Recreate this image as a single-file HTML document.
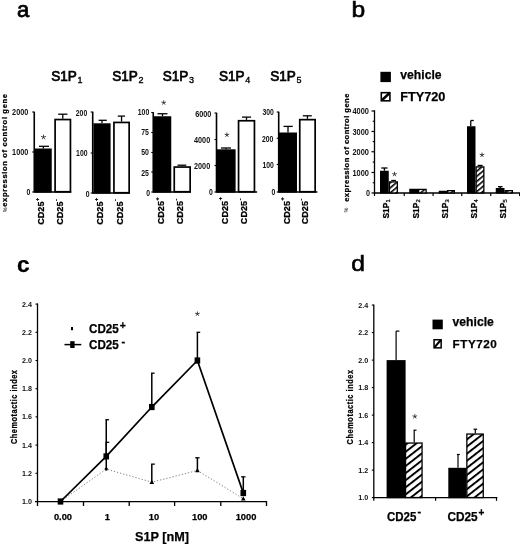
<!DOCTYPE html>
<html><head><meta charset="utf-8"><title>Figure</title>
<style>
html,body{margin:0;padding:0;background:#fff;}
body{width:520px;height:544px;overflow:hidden;font-family:"Liberation Sans",sans-serif;}
svg{display:block;will-change:transform;}
svg text{font-family:"Liberation Sans",sans-serif;fill:#000;}
svg text[font-weight="bold"]{stroke:#000;stroke-width:0.25px;}
</style></head><body>
<svg width="520" height="544" viewBox="0 0 520 544">
<rect width="520" height="544" fill="#fff"/>
<text x="17" y="16.8" font-size="22" font-weight="normal" text-anchor="start" stroke="#000" stroke-width="0.75">a</text>
<text x="351.6" y="16.6" font-size="22.5" font-weight="normal" text-anchor="start" textLength="13.7" lengthAdjust="spacingAndGlyphs" stroke="#000" stroke-width="0.6">b</text>
<text x="17.1" y="272" font-size="22" font-weight="bold" text-anchor="start" textLength="12.6" lengthAdjust="spacingAndGlyphs">c</text>
<text x="351.2" y="270.9" font-size="22.5" font-weight="normal" text-anchor="start" textLength="13.7" lengthAdjust="spacingAndGlyphs" stroke="#000" stroke-width="0.6">d</text>
<text x="51.2" y="81.2" font-size="13.8" font-weight="normal" stroke="#000" stroke-width="0.7" textLength="25.6" lengthAdjust="spacingAndGlyphs">S1P</text>
<text x="77.6" y="83.2" font-size="9" font-weight="normal" stroke="#000" stroke-width="0.35">1</text>
<line x1="34.25" y1="111.7" x2="34.25" y2="192.6" stroke="#000" stroke-width="1.6"/>
<line x1="32.25" y1="112" x2="34.25" y2="112" stroke="#000" stroke-width="1.1"/>
<text x="28.3" y="115.0" font-size="9" font-weight="bold" text-anchor="end" textLength="16.2" lengthAdjust="spacingAndGlyphs" style="stroke:none;fill:#111">2000</text>
<line x1="32.25" y1="152" x2="34.25" y2="152" stroke="#000" stroke-width="1.1"/>
<text x="28.3" y="154.89999999999998" font-size="9" font-weight="bold" text-anchor="end" textLength="16.2" lengthAdjust="spacingAndGlyphs" style="stroke:none;fill:#111">1000</text>
<line x1="32.25" y1="192" x2="34.25" y2="192" stroke="#000" stroke-width="1.1"/>
<text x="30.4" y="194.6" font-size="9" font-weight="bold" text-anchor="end" textLength="3.8" lengthAdjust="spacingAndGlyphs" style="stroke:none;fill:#111">0</text>
<line x1="43.375" y1="148.5" x2="43.375" y2="146.3" stroke="#000" stroke-width="1.3"/>
<line x1="39" y1="146.3" x2="49" y2="146.3" stroke="#000" stroke-width="1.3"/>
<rect x="35" y="148.5" width="16.75" height="44.099999999999994" fill="#000"/>
<line x1="62.775" y1="118.7" x2="62.775" y2="114.2" stroke="#000" stroke-width="1.3"/>
<line x1="58.2" y1="114.2" x2="67.4" y2="114.2" stroke="#000" stroke-width="1.3"/>
<rect x="55.1" y="119.55" width="15.349999999999998" height="72.19999999999999" fill="#fff" stroke="#000" stroke-width="1.7"/>
<line x1="34.25" y1="192" x2="71.3" y2="192" stroke="#000" stroke-width="1.5"/>
<path d="M43.5,137.2 L43.50,135.05 M43.5,137.2 L45.54,136.54 M43.5,137.2 L44.76,138.94 M43.5,137.2 L42.24,138.94 M43.5,137.2 L41.46,136.54 " stroke="#333" stroke-width="0.9" fill="none" stroke-linecap="round"/>
<text transform="translate(44.3,224.8) rotate(-90)" font-size="9.8" font-weight="bold" text-anchor="start" textLength="23.3" lengthAdjust="spacingAndGlyphs">CD25</text>
<text transform="translate(38.5,200.9) rotate(-90)" font-size="5.5" font-weight="bold" text-anchor="start">+</text>
<text transform="translate(63.4,224.8) rotate(-90)" font-size="9.8" font-weight="bold" text-anchor="start" textLength="23.3" lengthAdjust="spacingAndGlyphs">CD25</text>
<text transform="translate(57.6,200.9) rotate(-90)" font-size="5.5" font-weight="bold" text-anchor="start">-</text>
<text x="112.2" y="81.2" font-size="13.8" font-weight="normal" stroke="#000" stroke-width="0.7" textLength="25.6" lengthAdjust="spacingAndGlyphs">S1P</text>
<text x="138.6" y="83.2" font-size="9" font-weight="normal" stroke="#000" stroke-width="0.35">2</text>
<line x1="92.7" y1="111.7" x2="92.7" y2="193.6" stroke="#000" stroke-width="1.6"/>
<line x1="90.7" y1="112" x2="92.7" y2="112" stroke="#000" stroke-width="1.1"/>
<text x="87.2" y="116.3" font-size="9" font-weight="bold" text-anchor="end" textLength="11.4" lengthAdjust="spacingAndGlyphs" style="stroke:none;fill:#111">200</text>
<line x1="90.7" y1="153" x2="92.7" y2="153" stroke="#000" stroke-width="1.1"/>
<text x="87.5" y="155.89999999999998" font-size="9" font-weight="bold" text-anchor="end" textLength="11.4" lengthAdjust="spacingAndGlyphs" style="stroke:none;fill:#111">100</text>
<line x1="90.7" y1="193" x2="92.7" y2="193" stroke="#000" stroke-width="1.1"/>
<text x="89.6" y="196.5" font-size="9" font-weight="bold" text-anchor="end" textLength="3.8" lengthAdjust="spacingAndGlyphs" style="stroke:none;fill:#111">0</text>
<line x1="102.0" y1="123.3" x2="102.0" y2="120.3" stroke="#000" stroke-width="1.3"/>
<line x1="98.6" y1="120.3" x2="106.8" y2="120.3" stroke="#000" stroke-width="1.3"/>
<rect x="93.4" y="123.3" width="17.19999999999999" height="70.3" fill="#000"/>
<line x1="121.55" y1="121.6" x2="121.55" y2="116.1" stroke="#000" stroke-width="1.3"/>
<line x1="117.8" y1="116.1" x2="125" y2="116.1" stroke="#000" stroke-width="1.3"/>
<rect x="113.94999999999999" y="122.44999999999999" width="15.200000000000006" height="70.3" fill="#fff" stroke="#000" stroke-width="1.7"/>
<line x1="92.7" y1="193" x2="130" y2="193" stroke="#000" stroke-width="1.5"/>
<text transform="translate(103.4,224.8) rotate(-90)" font-size="9.8" font-weight="bold" text-anchor="start" textLength="23.3" lengthAdjust="spacingAndGlyphs">CD25</text>
<text transform="translate(97.60000000000001,200.9) rotate(-90)" font-size="5.5" font-weight="bold" text-anchor="start">+</text>
<text transform="translate(123.0,224.8) rotate(-90)" font-size="9.8" font-weight="bold" text-anchor="start" textLength="23.3" lengthAdjust="spacingAndGlyphs">CD25</text>
<text transform="translate(117.2,200.9) rotate(-90)" font-size="5.5" font-weight="bold" text-anchor="start">-</text>
<text x="162.7" y="81.2" font-size="13.8" font-weight="normal" stroke="#000" stroke-width="0.7" textLength="25.6" lengthAdjust="spacingAndGlyphs">S1P</text>
<text x="189.1" y="83.2" font-size="9" font-weight="normal" stroke="#000" stroke-width="0.35">3</text>
<line x1="153.25" y1="112.2" x2="153.25" y2="192.6" stroke="#000" stroke-width="1.6"/>
<line x1="151.25" y1="112.5" x2="153.25" y2="112.5" stroke="#000" stroke-width="1.1"/>
<text x="149.2" y="114.9" font-size="9" font-weight="bold" text-anchor="end" textLength="11.4" lengthAdjust="spacingAndGlyphs" style="stroke:none;fill:#111">100</text>
<line x1="151.25" y1="132.5" x2="153.25" y2="132.5" stroke="#000" stroke-width="1.1"/>
<text x="148.9" y="135.1" font-size="9" font-weight="bold" text-anchor="end" textLength="7.7" lengthAdjust="spacingAndGlyphs" style="stroke:none;fill:#111">75</text>
<line x1="151.25" y1="152.5" x2="153.25" y2="152.5" stroke="#000" stroke-width="1.1"/>
<text x="148.9" y="155.29999999999998" font-size="9" font-weight="bold" text-anchor="end" textLength="7.7" lengthAdjust="spacingAndGlyphs" style="stroke:none;fill:#111">50</text>
<line x1="151.25" y1="172" x2="153.25" y2="172" stroke="#000" stroke-width="1.1"/>
<text x="148.9" y="175.6" font-size="9" font-weight="bold" text-anchor="end" textLength="7.7" lengthAdjust="spacingAndGlyphs" style="stroke:none;fill:#111">25</text>
<line x1="151.25" y1="192" x2="153.25" y2="192" stroke="#000" stroke-width="1.1"/>
<text x="150" y="195.79999999999998" font-size="9" font-weight="bold" text-anchor="end" textLength="3.8" lengthAdjust="spacingAndGlyphs" style="stroke:none;fill:#111">0</text>
<line x1="162.5" y1="116.25" x2="162.5" y2="113.75" stroke="#000" stroke-width="1.3"/>
<line x1="157.5" y1="113.75" x2="167.5" y2="113.75" stroke="#000" stroke-width="1.3"/>
<rect x="153.75" y="116.25" width="17.5" height="76.35" fill="#000"/>
<line x1="182.2" y1="166.2" x2="182.2" y2="165.2" stroke="#000" stroke-width="1.3"/>
<line x1="177.5" y1="165.2" x2="186.3" y2="165.2" stroke="#000" stroke-width="1.3"/>
<rect x="174.25" y="167.04999999999998" width="15.899999999999995" height="24.700000000000006" fill="#fff" stroke="#000" stroke-width="1.7"/>
<line x1="153.25" y1="192" x2="191" y2="192" stroke="#000" stroke-width="1.5"/>
<path d="M163.7,102.7 L163.70,100.70 M163.7,102.7 L165.60,102.08 M163.7,102.7 L164.88,104.32 M163.7,102.7 L162.52,104.32 M163.7,102.7 L161.80,102.08 " stroke="#333" stroke-width="0.9" fill="none" stroke-linecap="round"/>
<text transform="translate(164.3,224.3) rotate(-90)" font-size="9.8" font-weight="bold" text-anchor="start" textLength="23.3" lengthAdjust="spacingAndGlyphs">CD25</text>
<text transform="translate(158.5,200.4) rotate(-90)" font-size="5.5" font-weight="bold" text-anchor="start">+</text>
<text transform="translate(183.4,224.3) rotate(-90)" font-size="9.8" font-weight="bold" text-anchor="start" textLength="23.3" lengthAdjust="spacingAndGlyphs">CD25</text>
<text transform="translate(177.6,200.4) rotate(-90)" font-size="5.5" font-weight="bold" text-anchor="start">-</text>
<text x="218.95" y="81.2" font-size="13.8" font-weight="normal" stroke="#000" stroke-width="0.7" textLength="25.6" lengthAdjust="spacingAndGlyphs">S1P</text>
<text x="245.35" y="83.2" font-size="9" font-weight="normal" stroke="#000" stroke-width="0.35">4</text>
<line x1="216.5" y1="112.7" x2="216.5" y2="192.6" stroke="#000" stroke-width="1.6"/>
<line x1="214.5" y1="113" x2="216.5" y2="113" stroke="#000" stroke-width="1.1"/>
<text x="211.4" y="117.0" font-size="9" font-weight="bold" text-anchor="end" textLength="16.2" lengthAdjust="spacingAndGlyphs" style="stroke:none;fill:#111">6000</text>
<line x1="214.5" y1="139.5" x2="216.5" y2="139.5" stroke="#000" stroke-width="1.1"/>
<text x="210.2" y="142.5" font-size="9" font-weight="bold" text-anchor="end" textLength="16.2" lengthAdjust="spacingAndGlyphs" style="stroke:none;fill:#111">4000</text>
<line x1="214.5" y1="165.5" x2="216.5" y2="165.5" stroke="#000" stroke-width="1.1"/>
<text x="210.2" y="168.5" font-size="9" font-weight="bold" text-anchor="end" textLength="16.2" lengthAdjust="spacingAndGlyphs" style="stroke:none;fill:#111">2000</text>
<line x1="214.5" y1="192" x2="216.5" y2="192" stroke="#000" stroke-width="1.1"/>
<text x="212.7" y="195.2" font-size="9" font-weight="bold" text-anchor="end" textLength="3.8" lengthAdjust="spacingAndGlyphs" style="stroke:none;fill:#111">0</text>
<line x1="226.05" y1="149.3" x2="226.05" y2="148" stroke="#000" stroke-width="1.3"/>
<line x1="221" y1="148" x2="231" y2="148" stroke="#000" stroke-width="1.3"/>
<rect x="216.5" y="149.3" width="19.099999999999994" height="43.29999999999998" fill="#000"/>
<line x1="246.5" y1="119.9" x2="246.5" y2="117.1" stroke="#000" stroke-width="1.3"/>
<line x1="242" y1="117.1" x2="251.1" y2="117.1" stroke="#000" stroke-width="1.3"/>
<rect x="238.54999999999998" y="120.75" width="15.900000000000023" height="70.99999999999999" fill="#fff" stroke="#000" stroke-width="1.7"/>
<line x1="216.5" y1="192" x2="257.1" y2="192" stroke="#000" stroke-width="1.5"/>
<path d="M226.9,134.9 L226.90,132.90 M226.9,134.9 L228.80,134.28 M226.9,134.9 L228.08,136.52 M226.9,134.9 L225.72,136.52 M226.9,134.9 L225.00,134.28 " stroke="#333" stroke-width="0.9" fill="none" stroke-linecap="round"/>
<text transform="translate(228.0,224.2) rotate(-90)" font-size="9.8" font-weight="bold" text-anchor="start" textLength="23.3" lengthAdjust="spacingAndGlyphs">CD25</text>
<text transform="translate(222.2,200.29999999999998) rotate(-90)" font-size="5.5" font-weight="bold" text-anchor="start">+</text>
<text transform="translate(247.4,224.2) rotate(-90)" font-size="9.8" font-weight="bold" text-anchor="start" textLength="23.3" lengthAdjust="spacingAndGlyphs">CD25</text>
<text transform="translate(241.6,200.29999999999998) rotate(-90)" font-size="5.5" font-weight="bold" text-anchor="start">-</text>
<text x="270.2" y="81.2" font-size="13.8" font-weight="normal" stroke="#000" stroke-width="0.7" textLength="25.6" lengthAdjust="spacingAndGlyphs">S1P</text>
<text x="296.6" y="83.2" font-size="9" font-weight="normal" stroke="#000" stroke-width="0.35">5</text>
<line x1="278.7" y1="111.7" x2="278.7" y2="192.6" stroke="#000" stroke-width="1.6"/>
<line x1="276.7" y1="112" x2="278.7" y2="112" stroke="#000" stroke-width="1.1"/>
<text x="273.8" y="115.10000000000001" font-size="9" font-weight="bold" text-anchor="end" textLength="11.4" lengthAdjust="spacingAndGlyphs" style="stroke:none;fill:#111">300</text>
<line x1="276.7" y1="138.25" x2="278.7" y2="138.25" stroke="#000" stroke-width="1.1"/>
<text x="273.4" y="141.7" font-size="9" font-weight="bold" text-anchor="end" textLength="11.4" lengthAdjust="spacingAndGlyphs" style="stroke:none;fill:#111">200</text>
<line x1="276.7" y1="164.5" x2="278.7" y2="164.5" stroke="#000" stroke-width="1.1"/>
<text x="273.8" y="167.7" font-size="9" font-weight="bold" text-anchor="end" textLength="11.4" lengthAdjust="spacingAndGlyphs" style="stroke:none;fill:#111">100</text>
<line x1="276.7" y1="192" x2="278.7" y2="192" stroke="#000" stroke-width="1.1"/>
<text x="275.4" y="194.89999999999998" font-size="9" font-weight="bold" text-anchor="end" textLength="3.8" lengthAdjust="spacingAndGlyphs" style="stroke:none;fill:#111">0</text>
<line x1="288.0" y1="132.5" x2="288.0" y2="126.4" stroke="#000" stroke-width="1.3"/>
<line x1="283.5" y1="126.4" x2="292.8" y2="126.4" stroke="#000" stroke-width="1.3"/>
<rect x="279" y="132.5" width="18" height="60.099999999999994" fill="#000"/>
<line x1="307.45" y1="118.8" x2="307.45" y2="115.8" stroke="#000" stroke-width="1.3"/>
<line x1="302.8" y1="115.8" x2="311.8" y2="115.8" stroke="#000" stroke-width="1.3"/>
<rect x="299.75" y="119.64999999999999" width="15.400000000000023" height="72.1" fill="#fff" stroke="#000" stroke-width="1.7"/>
<line x1="278.7" y1="192" x2="317.4" y2="192" stroke="#000" stroke-width="1.5"/>
<text transform="translate(290.0,224.3) rotate(-90)" font-size="9.8" font-weight="bold" text-anchor="start" textLength="23.3" lengthAdjust="spacingAndGlyphs">CD25</text>
<text transform="translate(284.2,200.4) rotate(-90)" font-size="5.5" font-weight="bold" text-anchor="start">+</text>
<text transform="translate(308.4,224.3) rotate(-90)" font-size="9.8" font-weight="bold" text-anchor="start" textLength="23.3" lengthAdjust="spacingAndGlyphs">CD25</text>
<text transform="translate(302.59999999999997,200.4) rotate(-90)" font-size="5.5" font-weight="bold" text-anchor="start">-</text>
<text transform="translate(7.4,206.8) rotate(-90)" font-size="7.6" font-weight="bold" text-anchor="start" textLength="112.8" lengthAdjust="spacing">expression of control gene</text>
<text transform="translate(6.8,212.3) rotate(-90)" font-size="5.5" font-weight="bold" text-anchor="start" style="stroke:none;fill:#444">%</text>
<defs><pattern id="h" width="5.6" height="5.6" patternUnits="userSpaceOnUse" patternTransform="rotate(-38)"><rect width="5.6" height="5.6" fill="#fff"/><rect y="0" width="5.6" height="1.95" fill="#000"/></pattern><pattern id="h2" width="3.9" height="3.9" patternUnits="userSpaceOnUse" patternTransform="rotate(-40)"><rect width="3.9" height="3.9" fill="#fff"/><rect y="0" width="3.9" height="1.6" fill="#000"/></pattern></defs>
<rect x="380.4" y="71.8" width="10.5" height="10.299999999999997" fill="#000"/>
<text x="400.3" y="78.75" font-size="13" font-weight="bold" text-anchor="start" textLength="41.3" lengthAdjust="spacingAndGlyphs">vehicle</text>
<rect x="381.3" y="92.7" width="8.599999999999989" height="8.099999999999989" fill="#fff" stroke="#000" stroke-width="1.6"/>
<path d="M381.3,98.89999999999999 L388.0,92.7 L389.9,92.7 L389.9,94.60000000000001 L383.2,100.8 L381.3,100.8 Z" fill="#000"/>
<text x="400.2" y="101.25" font-size="13" font-weight="bold" text-anchor="start" textLength="45.2" lengthAdjust="spacingAndGlyphs">FTY720</text>
<line x1="374.5" y1="110.2" x2="374.5" y2="193.6" stroke="#000" stroke-width="1.3"/>
<line x1="373.9" y1="193" x2="520" y2="193" stroke="#000" stroke-width="1.3"/>
<line x1="371.5" y1="111" x2="374.5" y2="111" stroke="#000" stroke-width="1.2"/>
<text x="369.0" y="114.1" font-size="9" font-weight="bold" text-anchor="end" textLength="16.5" lengthAdjust="spacingAndGlyphs" style="stroke:none;fill:#111">4000</text>
<line x1="371.5" y1="131.5" x2="374.5" y2="131.5" stroke="#000" stroke-width="1.2"/>
<text x="369.0" y="134.6" font-size="9" font-weight="bold" text-anchor="end" textLength="16.5" lengthAdjust="spacingAndGlyphs" style="stroke:none;fill:#111">3000</text>
<line x1="371.5" y1="151.75" x2="374.5" y2="151.75" stroke="#000" stroke-width="1.2"/>
<text x="369.0" y="154.85" font-size="9" font-weight="bold" text-anchor="end" textLength="16.5" lengthAdjust="spacingAndGlyphs" style="stroke:none;fill:#111">2000</text>
<line x1="371.5" y1="172.5" x2="374.5" y2="172.5" stroke="#000" stroke-width="1.2"/>
<text x="369.0" y="175.6" font-size="9" font-weight="bold" text-anchor="end" textLength="16.5" lengthAdjust="spacingAndGlyphs" style="stroke:none;fill:#111">1000</text>
<line x1="371.5" y1="193" x2="374.5" y2="193" stroke="#000" stroke-width="1.2"/>
<text x="369.9" y="196.1" font-size="9" font-weight="bold" text-anchor="end" textLength="4.0" lengthAdjust="spacingAndGlyphs" style="stroke:none;fill:#111">0</text>
<line x1="372.7" y1="121.25" x2="374.5" y2="121.25" stroke="#000" stroke-width="1.1"/>
<line x1="372.7" y1="141.6" x2="374.5" y2="141.6" stroke="#000" stroke-width="1.1"/>
<line x1="372.7" y1="162.1" x2="374.5" y2="162.1" stroke="#000" stroke-width="1.1"/>
<line x1="372.7" y1="182.75" x2="374.5" y2="182.75" stroke="#000" stroke-width="1.1"/>
<line x1="374.5" y1="193" x2="374.5" y2="196" stroke="#000" stroke-width="1.2"/>
<line x1="404.25" y1="193" x2="404.25" y2="196" stroke="#000" stroke-width="1.2"/>
<line x1="433.1" y1="193" x2="433.1" y2="196" stroke="#000" stroke-width="1.2"/>
<line x1="461.75" y1="193" x2="461.75" y2="196" stroke="#000" stroke-width="1.2"/>
<line x1="490.75" y1="193" x2="490.75" y2="196" stroke="#000" stroke-width="1.2"/>
<line x1="519.6" y1="193" x2="519.6" y2="196" stroke="#000" stroke-width="1.2"/>
<line x1="384.4" y1="170.75" x2="384.4" y2="168" stroke="#000" stroke-width="1.3"/>
<line x1="381.25" y1="168" x2="387.5" y2="168" stroke="#000" stroke-width="1.3"/>
<rect x="380" y="170.75" width="8.75" height="22.849999999999994" fill="#000"/>
<rect x="389.4" y="181.9" width="7.95" height="11.049999999999994" fill="url(#h2)" stroke="#000" stroke-width="1.3"/>
<path d="M394.5,174.25 L394.50,172.25 M394.5,174.25 L396.40,173.63 M394.5,174.25 L395.68,175.87 M394.5,174.25 L393.32,175.87 M394.5,174.25 L392.60,173.63 " stroke="#333" stroke-width="0.9" fill="none" stroke-linecap="round"/>
<rect x="409.25" y="188.75" width="8.75" height="4.849999999999994" fill="#000"/>
<rect x="418.65" y="189.4" width="7.45" height="3.5499999999999945" fill="url(#h2)" stroke="#000" stroke-width="1.3"/>
<rect x="438.75" y="190.75" width="8.25" height="2.8499999999999943" fill="#000"/>
<rect x="447.65" y="190.65" width="6.7" height="2.2999999999999945" fill="url(#h2)" stroke="#000" stroke-width="1.3"/>
<line x1="470.75" y1="126.25" x2="470.75" y2="120.5" stroke="#000" stroke-width="1.3"/>
<line x1="470.75" y1="120.5" x2="473.75" y2="120.5" stroke="#000" stroke-width="1.3"/>
<rect x="467" y="126.25" width="8.5" height="67.35" fill="#000"/>
<rect x="476.15" y="166.9" width="7.7" height="26.049999999999994" fill="url(#h2)" stroke="#000" stroke-width="1.3"/>
<path d="M482,155 L482.00,153.00 M482,155 L483.90,154.38 M482,155 L483.18,156.62 M482,155 L480.82,156.62 M482,155 L480.10,154.38 " stroke="#333" stroke-width="0.9" fill="none" stroke-linecap="round"/>
<rect x="495.75" y="188" width="8.75" height="5.599999999999994" fill="#000"/>
<rect x="505.15" y="190.65" width="7.2" height="2.2999999999999945" fill="url(#h2)" stroke="#000" stroke-width="1.3"/>
<line x1="480" y1="166.5" x2="480" y2="165.4" stroke="#000" stroke-width="1.2"/>
<line x1="477.6" y1="165.4" x2="482.6" y2="165.4" stroke="#000" stroke-width="1.2"/>
<line x1="500.2" y1="188.2" x2="500.2" y2="186.7" stroke="#000" stroke-width="1.3"/>
<line x1="498" y1="186.7" x2="502.6" y2="186.7" stroke="#000" stroke-width="1.3"/>
<line x1="393.6" y1="181.4" x2="393.6" y2="180.4" stroke="#000" stroke-width="1.1"/>
<line x1="391.2" y1="180.4" x2="396" y2="180.4" stroke="#000" stroke-width="1.1"/>
<text transform="translate(389.4,218.6) rotate(-90)" font-size="9.8" font-weight="bold" text-anchor="start" textLength="15.9" lengthAdjust="spacingAndGlyphs">S1P</text>
<text transform="translate(390.29999999999995,202.4) rotate(-90)" font-size="5.8" font-weight="normal" text-anchor="start" stroke="#000" stroke-width="0.25">1</text>
<text transform="translate(418.8,218.6) rotate(-90)" font-size="9.8" font-weight="bold" text-anchor="start" textLength="15.9" lengthAdjust="spacingAndGlyphs">S1P</text>
<text transform="translate(419.7,202.4) rotate(-90)" font-size="5.8" font-weight="normal" text-anchor="start" stroke="#000" stroke-width="0.25">2</text>
<text transform="translate(448.3,218.6) rotate(-90)" font-size="9.8" font-weight="bold" text-anchor="start" textLength="15.9" lengthAdjust="spacingAndGlyphs">S1P</text>
<text transform="translate(449.2,202.4) rotate(-90)" font-size="5.8" font-weight="normal" text-anchor="start" stroke="#000" stroke-width="0.25">3</text>
<text transform="translate(477.2,218.6) rotate(-90)" font-size="9.8" font-weight="bold" text-anchor="start" textLength="15.9" lengthAdjust="spacingAndGlyphs">S1P</text>
<text transform="translate(478.09999999999997,202.4) rotate(-90)" font-size="5.8" font-weight="normal" text-anchor="start" stroke="#000" stroke-width="0.25">4</text>
<text transform="translate(506.1,218.6) rotate(-90)" font-size="9.8" font-weight="bold" text-anchor="start" textLength="15.9" lengthAdjust="spacingAndGlyphs">S1P</text>
<text transform="translate(507.0,202.4) rotate(-90)" font-size="5.8" font-weight="normal" text-anchor="start" stroke="#000" stroke-width="0.25">5</text>
<text transform="translate(349.0,201.8) rotate(-90)" font-size="7.6" font-weight="bold" text-anchor="start" textLength="108.2" lengthAdjust="spacing">expression of control gene</text>
<text transform="translate(348.4,212.6) rotate(-90)" font-size="5.5" font-weight="bold" text-anchor="start" style="stroke:none;fill:#555">%</text>
<line x1="37.5" y1="303.4" x2="37.5" y2="502.1" stroke="#000" stroke-width="1.3"/>
<line x1="35" y1="501.6" x2="267.1" y2="501.6" stroke="#000" stroke-width="1.3"/>
<line x1="35.5" y1="501.5" x2="37.5" y2="501.5" stroke="#000" stroke-width="1.1"/>
<text x="32.0" y="504.0" font-size="8" font-weight="bold" text-anchor="end" textLength="9.9" lengthAdjust="spacingAndGlyphs" style="stroke:none;fill:#111">1.0</text>
<line x1="35.5" y1="473.3" x2="37.5" y2="473.3" stroke="#000" stroke-width="1.1"/>
<text x="32.0" y="475.8" font-size="8" font-weight="bold" text-anchor="end" textLength="9.9" lengthAdjust="spacingAndGlyphs" style="stroke:none;fill:#111">1.2</text>
<line x1="35.5" y1="445.1" x2="37.5" y2="445.1" stroke="#000" stroke-width="1.1"/>
<text x="32.0" y="447.6" font-size="8" font-weight="bold" text-anchor="end" textLength="9.9" lengthAdjust="spacingAndGlyphs" style="stroke:none;fill:#111">1.4</text>
<line x1="35.5" y1="416.9" x2="37.5" y2="416.9" stroke="#000" stroke-width="1.1"/>
<text x="32.0" y="419.4" font-size="8" font-weight="bold" text-anchor="end" textLength="9.9" lengthAdjust="spacingAndGlyphs" style="stroke:none;fill:#111">1.6</text>
<line x1="35.5" y1="388.7" x2="37.5" y2="388.7" stroke="#000" stroke-width="1.1"/>
<text x="32.0" y="391.2" font-size="8" font-weight="bold" text-anchor="end" textLength="9.9" lengthAdjust="spacingAndGlyphs" style="stroke:none;fill:#111">1.8</text>
<line x1="35.5" y1="360.5" x2="37.5" y2="360.5" stroke="#000" stroke-width="1.1"/>
<text x="32.0" y="363.0" font-size="8" font-weight="bold" text-anchor="end" textLength="9.9" lengthAdjust="spacingAndGlyphs" style="stroke:none;fill:#111">2.0</text>
<line x1="35.5" y1="332.29999999999995" x2="37.5" y2="332.29999999999995" stroke="#000" stroke-width="1.1"/>
<text x="32.0" y="334.79999999999995" font-size="8" font-weight="bold" text-anchor="end" textLength="9.9" lengthAdjust="spacingAndGlyphs" style="stroke:none;fill:#111">2.2</text>
<line x1="35.5" y1="304.1" x2="37.5" y2="304.1" stroke="#000" stroke-width="1.1"/>
<text x="32.0" y="306.6" font-size="8" font-weight="bold" text-anchor="end" textLength="9.9" lengthAdjust="spacingAndGlyphs" style="stroke:none;fill:#111">2.4</text>
<line x1="37.5" y1="501.6" x2="37.5" y2="506.0" stroke="#000" stroke-width="1.3"/>
<line x1="83.5" y1="501.6" x2="83.5" y2="506.0" stroke="#000" stroke-width="1.3"/>
<line x1="129.2" y1="501.6" x2="129.2" y2="506.0" stroke="#000" stroke-width="1.3"/>
<line x1="174.6" y1="501.6" x2="174.6" y2="506.0" stroke="#000" stroke-width="1.3"/>
<line x1="220.8" y1="501.6" x2="220.8" y2="506.0" stroke="#000" stroke-width="1.3"/>
<line x1="266.5" y1="501.6" x2="266.5" y2="506.0" stroke="#000" stroke-width="1.3"/>
<polyline points="60.5,501.5 106.25,469.07 151.8,482.183 197.4,470.48 243.3,498.68" fill="none" stroke="#666" stroke-width="0.8" stroke-dasharray="1.3,1.9"/>
<line x1="106.25" y1="469.07" x2="106.25" y2="442.28000000000003" stroke="#000" stroke-width="1.5"/>
<line x1="105.55" y1="442.28000000000003" x2="109.25" y2="442.28000000000003" stroke="#000" stroke-width="1.3"/>
<circle cx="106.25" cy="469.07" r="1.6" fill="#000"/>
<line x1="151.8" y1="482.183" x2="151.8" y2="464.135" stroke="#000" stroke-width="1.5"/>
<line x1="151.10000000000002" y1="464.135" x2="154.8" y2="464.135" stroke="#000" stroke-width="1.3"/>
<path d="M149.5,483.883 L154.10000000000002,483.883 L151.8,479.783 Z" fill="#000"/>
<line x1="197.4" y1="470.48" x2="197.4" y2="457.78999999999996" stroke="#000" stroke-width="1.5"/>
<line x1="195.20000000000002" y1="457.78999999999996" x2="199.6" y2="457.78999999999996" stroke="#000" stroke-width="1.3"/>
<path d="M195.1,472.18 L199.70000000000002,472.18 L197.4,468.08000000000004 Z" fill="#000"/>
<path d="M241.0,500.38 L245.60000000000002,500.38 L243.3,496.28000000000003 Z" fill="#000"/>
<polyline points="60.5,501.5 106.25,456.38 151.8,407.03000000000003 197.4,360.5 243.3,493.03999999999996" fill="none" stroke="#000" stroke-width="1.75"/>
<rect x="57.7" y="498.4" width="5.599999999999994" height="6.2000000000000455" fill="#000"/>
<line x1="106.25" y1="456.38" x2="106.25" y2="419.71999999999997" stroke="#000" stroke-width="1.5"/>
<line x1="105.45" y1="419.71999999999997" x2="109.05" y2="419.71999999999997" stroke="#000" stroke-width="1.3"/>
<rect x="103.45" y="453.28" width="5.599999999999994" height="6.2000000000000455" fill="#000"/>
<line x1="151.8" y1="407.03000000000003" x2="151.8" y2="373.19" stroke="#000" stroke-width="1.5"/>
<line x1="151.0" y1="373.19" x2="154.60000000000002" y2="373.19" stroke="#000" stroke-width="1.3"/>
<rect x="149.0" y="403.93" width="5.600000000000023" height="6.2000000000000455" fill="#000"/>
<line x1="197.4" y1="360.5" x2="197.4" y2="332.29999999999995" stroke="#000" stroke-width="1.5"/>
<line x1="196.6" y1="332.29999999999995" x2="200.20000000000002" y2="332.29999999999995" stroke="#000" stroke-width="1.3"/>
<rect x="194.6" y="357.4" width="5.600000000000023" height="6.2000000000000455" fill="#000"/>
<line x1="243.3" y1="493.03999999999996" x2="243.3" y2="476.825" stroke="#000" stroke-width="1.5"/>
<line x1="241.10000000000002" y1="476.825" x2="245.5" y2="476.825" stroke="#000" stroke-width="1.3"/>
<rect x="240.5" y="489.93999999999994" width="5.600000000000023" height="6.2000000000000455" fill="#000"/>
<path d="M197.4,313.9 L197.40,311.90 M197.4,313.9 L199.30,313.28 M197.4,313.9 L198.58,315.52 M197.4,313.9 L196.22,315.52 M197.4,313.9 L195.50,313.28 " stroke="#333" stroke-width="0.9" fill="none" stroke-linecap="round"/>
<rect x="71" y="327" width="2" height="3.2" fill="#000"/>
<text x="89" y="333.3" font-size="12" font-weight="bold" text-anchor="start" textLength="29.8" lengthAdjust="spacingAndGlyphs">CD25</text>
<text x="119.8" y="328.8" font-size="10.5" font-weight="bold" text-anchor="start">+</text>
<line x1="64.5" y1="344.6" x2="81.3" y2="344.6" stroke="#000" stroke-width="1.5"/>
<rect x="70.2" y="341.2" width="4.3999999999999915" height="6.800000000000011" fill="#000"/>
<text x="89" y="349.3" font-size="12" font-weight="bold" text-anchor="start" textLength="29.8" lengthAdjust="spacingAndGlyphs">CD25</text>
<text x="121.6" y="344.6" font-size="11" font-weight="bold" text-anchor="start">-</text>
<text x="63" y="519.9" font-size="9.3" font-weight="bold" text-anchor="middle">0.00</text>
<text x="107.3" y="519.9" font-size="9.3" font-weight="bold" text-anchor="middle">1</text>
<text x="153.9" y="519.9" font-size="9.3" font-weight="bold" text-anchor="middle">10</text>
<text x="199.8" y="519.9" font-size="9.3" font-weight="bold" text-anchor="middle">100</text>
<text x="246" y="519.9" font-size="9.3" font-weight="bold" text-anchor="middle">1000</text>
<text x="135" y="541.3" font-size="12.5" font-weight="bold" text-anchor="start" textLength="54" lengthAdjust="spacingAndGlyphs">S1P [nM]</text>
<text transform="translate(17.2,444.0) rotate(-90)" font-size="8.2" font-weight="bold" text-anchor="start" textLength="74.4" lengthAdjust="spacingAndGlyphs" letter-spacing="0.6">Chemotactic index</text>
<line x1="373.8" y1="304.6" x2="373.8" y2="498.2" stroke="#000" stroke-width="1.3"/>
<line x1="373.2" y1="497.6" x2="497.3" y2="497.6" stroke="#000" stroke-width="1.3"/>
<line x1="371.8" y1="497.6" x2="373.8" y2="497.6" stroke="#000" stroke-width="1.1"/>
<text x="368.3" y="500.3" font-size="7.8" font-weight="bold" text-anchor="end" textLength="10.0" lengthAdjust="spacingAndGlyphs" style="stroke:none;fill:#111">1.0</text>
<line x1="371.8" y1="470.1" x2="373.8" y2="470.1" stroke="#000" stroke-width="1.1"/>
<text x="368.3" y="472.8" font-size="7.8" font-weight="bold" text-anchor="end" textLength="10.0" lengthAdjust="spacingAndGlyphs" style="stroke:none;fill:#111">1.2</text>
<line x1="371.8" y1="442.6" x2="373.8" y2="442.6" stroke="#000" stroke-width="1.1"/>
<text x="368.3" y="445.3" font-size="7.8" font-weight="bold" text-anchor="end" textLength="10.0" lengthAdjust="spacingAndGlyphs" style="stroke:none;fill:#111">1.4</text>
<line x1="371.8" y1="415.1" x2="373.8" y2="415.1" stroke="#000" stroke-width="1.1"/>
<text x="368.3" y="417.8" font-size="7.8" font-weight="bold" text-anchor="end" textLength="10.0" lengthAdjust="spacingAndGlyphs" style="stroke:none;fill:#111">1.6</text>
<line x1="371.8" y1="387.6" x2="373.8" y2="387.6" stroke="#000" stroke-width="1.1"/>
<text x="368.3" y="390.3" font-size="7.8" font-weight="bold" text-anchor="end" textLength="10.0" lengthAdjust="spacingAndGlyphs" style="stroke:none;fill:#111">1.8</text>
<line x1="371.8" y1="360.1" x2="373.8" y2="360.1" stroke="#000" stroke-width="1.1"/>
<text x="368.3" y="362.8" font-size="7.8" font-weight="bold" text-anchor="end" textLength="10.0" lengthAdjust="spacingAndGlyphs" style="stroke:none;fill:#111">2.0</text>
<line x1="371.8" y1="332.6" x2="373.8" y2="332.6" stroke="#000" stroke-width="1.1"/>
<text x="368.3" y="335.3" font-size="7.8" font-weight="bold" text-anchor="end" textLength="10.0" lengthAdjust="spacingAndGlyphs" style="stroke:none;fill:#111">2.2</text>
<line x1="371.8" y1="305.1" x2="373.8" y2="305.1" stroke="#000" stroke-width="1.1"/>
<text x="368.3" y="307.8" font-size="7.8" font-weight="bold" text-anchor="end" textLength="10.0" lengthAdjust="spacingAndGlyphs" style="stroke:none;fill:#111">2.4</text>
<line x1="373.8" y1="497.6" x2="373.8" y2="500.8" stroke="#000" stroke-width="1.2"/>
<line x1="435.6" y1="497.6" x2="435.6" y2="500.8" stroke="#000" stroke-width="1.2"/>
<line x1="496.5" y1="497.6" x2="496.5" y2="500.8" stroke="#000" stroke-width="1.2"/>
<line x1="396.1" y1="360.1" x2="396.1" y2="331.1" stroke="#000" stroke-width="1.2"/>
<line x1="396.1" y1="331.1" x2="399.4" y2="331.1" stroke="#000" stroke-width="1.2"/>
<rect x="386.6" y="360.1" width="19.0" height="138.09999999999997" fill="#000"/>
<line x1="414.2" y1="442.6" x2="414.2" y2="430.2" stroke="#000" stroke-width="1.2"/>
<line x1="413.6" y1="430.2" x2="416.5" y2="430.2" stroke="#000" stroke-width="1.2"/>
<rect x="405.54999999999995" y="443.04999999999995" width="16.50000000000001" height="54.500000000000014" fill="url(#h)" stroke="#000" stroke-width="1.3"/>
<line x1="458" y1="467.8" x2="458" y2="454.5" stroke="#000" stroke-width="1.2"/>
<line x1="456.9" y1="454.5" x2="459.8" y2="454.5" stroke="#000" stroke-width="1.2"/>
<rect x="448.3" y="467.8" width="18.19999999999999" height="30.399999999999977" fill="#000"/>
<line x1="475.3" y1="433.5" x2="475.3" y2="429.2" stroke="#000" stroke-width="1.2"/>
<line x1="473.5" y1="429.2" x2="477.2" y2="429.2" stroke="#000" stroke-width="1.2"/>
<rect x="466.84999999999997" y="434.04999999999995" width="16.399999999999988" height="63.500000000000014" fill="url(#h)" stroke="#000" stroke-width="1.3"/>
<path d="M414.8,416.5 L414.80,414.50 M414.8,416.5 L416.70,415.88 M414.8,416.5 L415.98,418.12 M414.8,416.5 L413.62,418.12 M414.8,416.5 L412.90,415.88 " stroke="#333" stroke-width="0.9" fill="none" stroke-linecap="round"/>
<rect x="432.5" y="319.6" width="10.300000000000011" height="9.699999999999989" fill="#000"/>
<text x="452.6" y="326.2" font-size="12" font-weight="bold" text-anchor="start" textLength="41.2" lengthAdjust="spacingAndGlyphs">vehicle</text>
<rect x="434.05" y="339.75" width="7.099999999999966" height="8.100000000000023" fill="#fff" stroke="#000" stroke-width="1.5"/>
<path d="M434.05,346.35 L439.65,339.75 L441.15,339.75 L441.15,341.25 L435.55,347.85 L434.05,347.85 Z" fill="#000"/>
<text x="452.6" y="348.3" font-size="11.8" font-weight="bold" text-anchor="start" textLength="44.6" lengthAdjust="spacingAndGlyphs" letter-spacing="0.5">FTY720</text>
<text x="387" y="520.6" font-size="12.5" font-weight="bold" text-anchor="start" textLength="29.4" lengthAdjust="spacingAndGlyphs">CD25</text>
<text x="417.5" y="515.3" font-size="11" font-weight="bold" text-anchor="start">-</text>
<text x="447.4" y="520.6" font-size="12.5" font-weight="bold" text-anchor="start" textLength="30.2" lengthAdjust="spacingAndGlyphs">CD25</text>
<text x="478.5" y="516.2" font-size="10" font-weight="bold" text-anchor="start">+</text>
<text transform="translate(353.2,444.4) rotate(-90)" font-size="8.2" font-weight="bold" text-anchor="start" textLength="75" lengthAdjust="spacingAndGlyphs" letter-spacing="0.6">Chemotactic index</text>
</svg>
</body></html>
